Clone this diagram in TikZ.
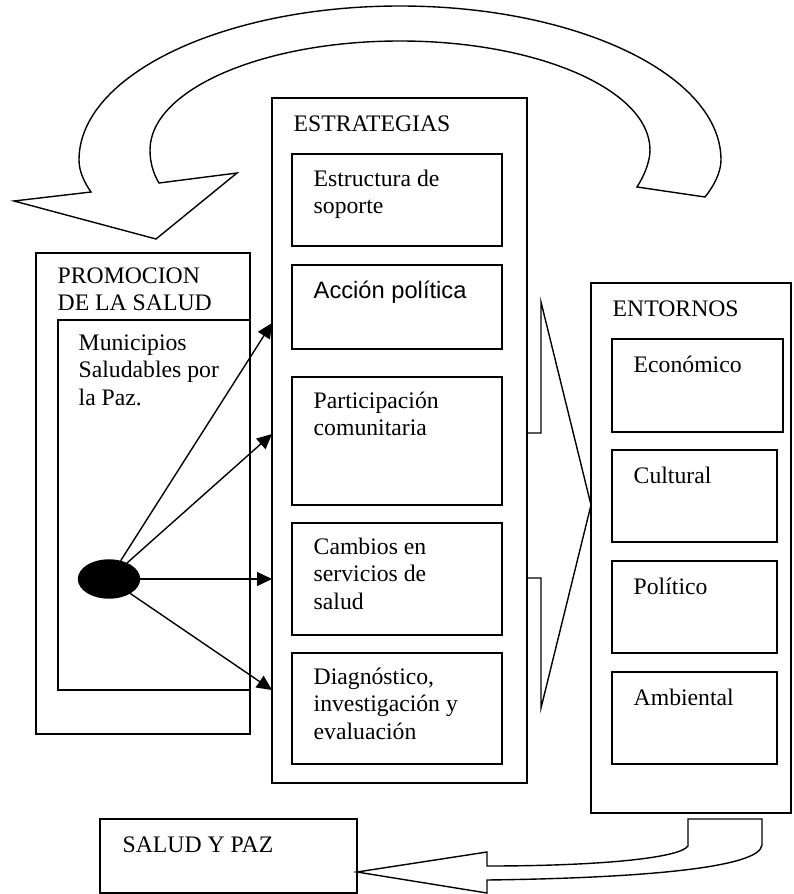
\documentclass[tikz,border=0pt]{standalone}
\usepackage{fontspec}
\setmainfont{Liberation Serif}
\newfontfamily\arialfont{Liberation Sans}
\usetikzlibrary{arrows.meta,shapes.geometric}

\tikzset{
  box/.style={draw, rectangle, inner sep=0pt, outer sep=0pt, anchor=north west},
  txt/.style={anchor=north west, inner sep=0pt, align=left,
    font=\fontsize{11.85}{13.75}\selectfont, execute at begin node=\strut},
  arr/.style={-{Triangle[length=7.5pt,width=7pt]}},
}

\begin{document}
\begin{tikzpicture}
  [x=0.5pt, y=-0.5pt, line width=0.7pt]
  \useasboundingbox (0,0) rectangle (793,894);

  % curved arrow on top
  \draw (91,192) .. controls (84,182) and (79,171) .. (79,160)
    .. controls (79,75) and (223,6) .. (400,6)
    .. controls (577,6) and (721,75) .. (721,160)
    .. controls (721,172) and (714,186) .. (705,197)
    -- (637,187)
    .. controls (644,176) and (650,162) .. (650,150)
    .. controls (650,90) and (538,41) .. (400,41)
    .. controls (262,41) and (150,90) .. (150,150)
    .. controls (150,162) and (153,173) .. (159,183)
    -- (237,173) -- (156,239) -- (14,201) -- cycle;

  % estrategias
  \node[box, minimum width=127.5pt, minimum height=342.5pt] (estr) at (272,98) {};
  \node[txt] (estr-t) at ([shift={(21,14)}]estr.north west) {ESTRATEGIAS};
  \node[box, minimum width=105pt, minimum height=46pt] (estructura) at (292,154) {};
  \node[txt] (estructura-t) at ([shift={(21,15)}]estructura.north west) {Estructura de\\soporte};
  \node[box, minimum width=105pt, minimum height=42pt] (accion) at (292,265) {};
  \node[txt, font=\arialfont\fontsize{11.85}{13.75}\selectfont] (accion-t)
    at ([shift={(21,14)}]accion.north west) {Acción política};
  \node[box, minimum width=105pt, minimum height=64pt] (particip) at (292,377) {};
  \node[txt] (particip-t) at ([shift={(21,14)}]particip.north west) {Participación\\comunitaria};
  \node[box, minimum width=105pt, minimum height=56pt] (cambios) at (292,523) {};
  \node[txt] (cambios-t) at ([shift={(21,14)}]cambios.north west) {Cambios en\\servicios de\\salud};
  \node[box, minimum width=105pt, minimum height=55.5pt] (diagnos) at (292,653) {};
  \node[txt] (diagnos-t) at ([shift={(21,14)}]diagnos.north west) {Diagnóstico,\\investigación y\\evaluación};

  % brace toward entornos
  \draw (541,302) -- (591,505) -- (541,708) -- (541,578) -- (527,578)
    -- (527,433) -- (541,433) -- cycle;

  % entornos
  \node[box, minimum width=100pt, minimum height=265pt] (entornos) at (591,283) {};
  \node[txt] (entornos-t) at ([shift={(21,14)}]entornos.north west) {ENTORNOS};
  \node[box, minimum width=85.5pt, minimum height=46.5pt] (economico) at (612,339) {};
  \node[txt] (economico-t) at ([shift={(21,14)}]economico.north west) {Económico};
  \node[box, minimum width=82.5pt, minimum height=46pt] (cultural) at (612,450) {};
  \node[txt] (cultural-t) at ([shift={(21,14)}]cultural.north west) {Cultural};
  \node[box, minimum width=82.5pt, minimum height=46pt] (politico) at (612,561) {};
  \node[txt] (politico-t) at ([shift={(21,14)}]politico.north west) {Político};
  \node[box, minimum width=82.5pt, minimum height=46pt] (ambiental) at (612,672) {};
  \node[txt] (ambiental-t) at ([shift={(21,14)}]ambiental.north west) {Ambiental};

  % promocion de la salud
  \node[box, minimum width=107pt, minimum height=240.5pt] (promocion) at (36,253) {};
  \node[txt] (promocion-t) at ([shift={(21,14)}]promocion.north west) {PROMOCION\\DE LA SALUD};
  \node[box, minimum width=96pt, minimum height=185pt] (municipios) at (58,320) {};
  \node[txt] (municipios-t) at ([shift={(20,14)}]municipios.north west) {Municipios\\Saludables por\\la Paz.};
  \node[draw, fill, ellipse, inner sep=0pt, minimum width=30.5pt, minimum height=19pt] (dot) at (109,579) {};

  \coordinate (tip1) at (272,323);
  \coordinate (tip2) at (272,434);
  \coordinate (tip3) at (272,579);
  \coordinate (tip4) at (272,690);
  \foreach \i in {1,...,4}
    \draw[arr] (dot) -- (tip\i);

  % salud y paz
  \node[box, minimum width=128.5pt, minimum height=37pt] (salud) at (100,819) {};
  \node[txt] (salud-t) at ([shift={(22,14)}]salud.north west) {SALUD Y PAZ};

  % bottom arrow
  \draw (688,819) -- (762,819) -- (762,845)
    .. controls (760,868) and (640,878) .. (487,880)
    -- (487,893) -- (salud.east |- 0,872) -- (487,852) -- (487,866)
    .. controls (600,866) and (680,858) .. (688,846) -- cycle;
\end{tikzpicture}
\end{document}
